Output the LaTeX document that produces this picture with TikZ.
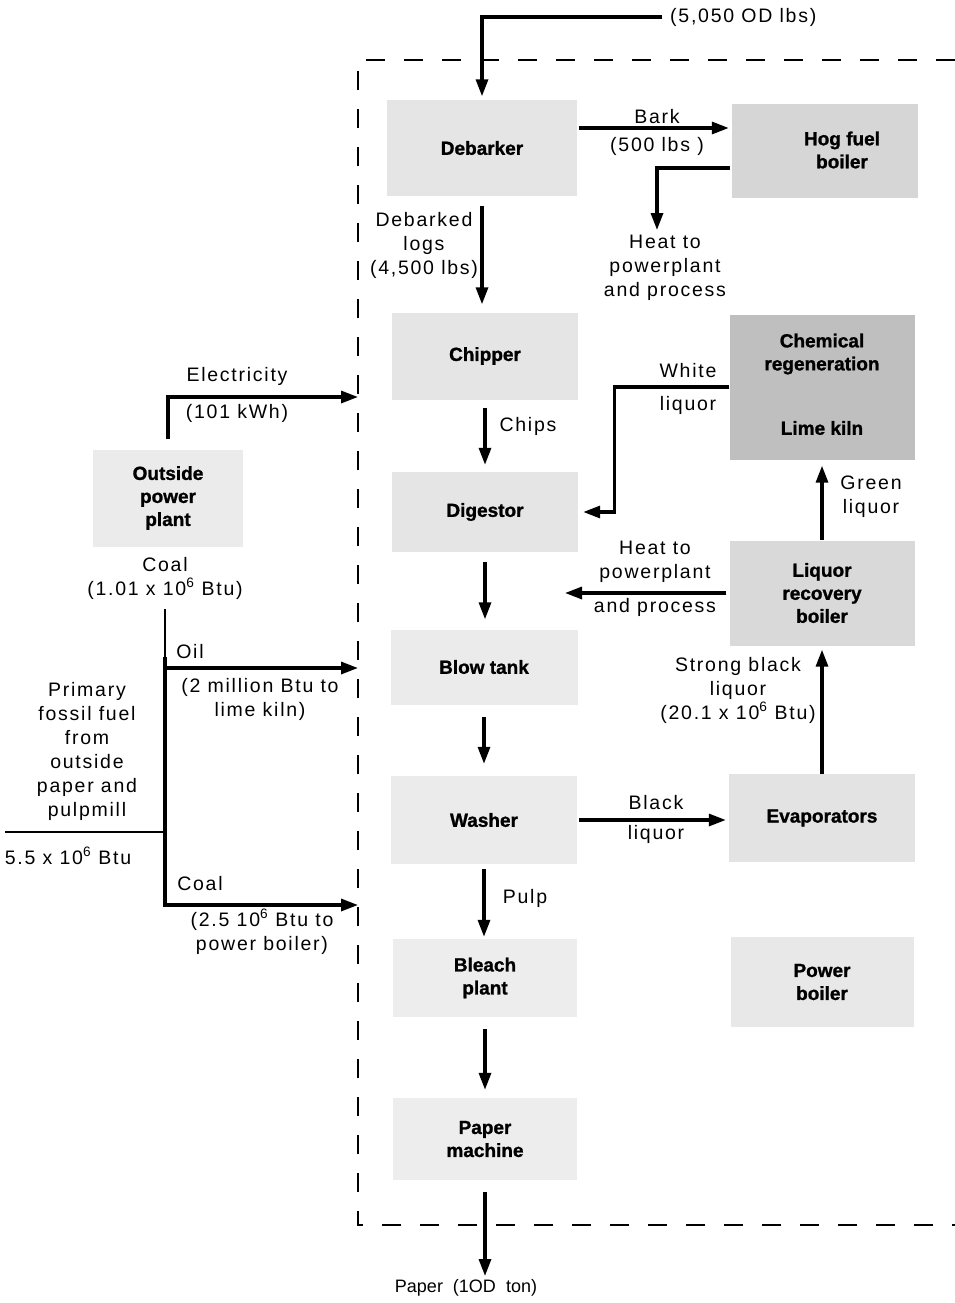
\documentclass[tikz,border=0pt]{standalone}
\usepackage{fontspec}
\setmainfont{Liberation Sans}
\newfontfamily\labfont{Liberation Sans}[LetterSpace=9]
\newfontfamily\heavyfont{Liberation Sans Bold}[FakeBold=1.2]
\usetikzlibrary{arrows.meta}
\tikzset{
  box/.style={fill=gray!20, draw=none, inner sep=0pt, align=center,
    font=\heavyfont\fontsize{19}{23}\selectfont},
  boxtext/.style={font=\heavyfont\fontsize{19}{23}\selectfont, align=center, inner sep=0pt},
  lab/.style={font=\labfont\fontsize{19.5}{24}\selectfont, align=center, inner sep=0pt},
  flow/.style={line width=3.2pt, -{Triangle[length=17pt,width=12pt]}},
  plain/.style={line width=3.2pt},
  thinl/.style={line width=1.3pt},
  frame/.style={line width=2.2pt, dash pattern=on 19pt off 19pt},
}
\begin{document}
\begin{tikzpicture}[x=1pt,y=-1pt]
\useasboundingbox (0,0) rectangle (955,1303);

% process boxes
\node[box, minimum width=190pt, minimum height=95pt] (deb) at (482,148) {Debarker};
\node[box, fill=gray!32, minimum width=186pt, minimum height=93pt] (hog) at (825,151) {};
\node[boxtext] (hogt) at (842,150) {Hog fuel\\boiler};
\node[box, minimum width=186pt, minimum height=87pt] (chip) at (485,356) {Chipper};
\node[box, fill=gray!50, minimum width=185pt, minimum height=145pt] (chem) at (822,387) {};
\node[boxtext] (chemt) at (822,354) {Chemical\\regeneration};
\node[boxtext] (limet) at (822,428) {Lime kiln};
\node[box, minimum width=186pt, minimum height=80pt] (dig) at (485,512) {Digestor};
\node[box, fill=gray!30, minimum width=185pt, minimum height=105pt] (liq) at (822,593) {Liquor\\recovery\\boiler};
\node[box, fill=gray!16, minimum width=187pt, minimum height=75pt] (blow) at (484,667) {Blow tank};
\node[box, fill=gray!16, minimum width=186pt, minimum height=88pt] (wash) at (484,820) {Washer};
\node[box, fill=gray!22, minimum width=186pt, minimum height=88pt] (evap) at (822,818) {Evaporators};
\node[box, fill=gray!14, minimum width=184pt, minimum height=78pt] (bleach) at (485,978) {Bleach\\plant};
\node[box, fill=gray!18, minimum width=183pt, minimum height=90pt] (power) at (822,982) {Power\\boiler};
\node[box, fill=gray!14, minimum width=184pt, minimum height=82pt] (paper) at (485,1139) {Paper\\machine};
\node[box, fill=gray!16, minimum width=150pt, minimum height=97pt] (opp) at (168,498) {Outside\\power\\plant};

% system boundary
\coordinate (fTR) at (955,60);
\coordinate (fTL) at (358,60);
\coordinate (fBL) at (358,1225);
\coordinate (fBR) at (955,1225);
\draw[frame] (fTR) -- (fTL) -- (fBL) -- (fBR);

% wood input
\coordinate (inS) at (662,17);
\draw[flow, shorten >=4pt] (inS) -| (deb.north);
\node[lab, anchor=west] (inL) at (670,17) {(5,050 OD lbs)};

% bark
\draw[flow, shorten <=2pt, shorten >=3pt] ([yshift=20pt]deb.east) -- ([yshift=20pt]deb.east -| hog.west);
\node[lab] (barkL) at (657,117) {Bark};
\node[lab] (barkL2) at (657,146) {(500 lbs )};

% heat from hog fuel boiler
\coordinate (hogHeat) at (657,230);
\draw[flow, shorten <=2pt] ([yshift=-17pt]hog.west) -| (hogHeat);
\node[lab] (heat1) at (665,268) {Heat to\\powerplant\\and process};

% main line
\draw[flow, shorten <=10pt, shorten >=8pt] (deb.south) -- (deb.south |- chip.north);
\node[lab] (logsL) at (424,245) {Debarked\\logs\\(4,500 lbs)};
\draw[flow, shorten <=8pt, shorten >=7pt] (chip.south) -- (chip.south |- dig.north);
\node[lab] (chipsL) at (528,426) {Chips};
\draw[flow, shorten <=10pt, shorten >=10pt] (dig.south) -- (dig.south |- blow.north);
\draw[flow, shorten <=12pt, shorten >=12pt] (blow.south) -- (blow.south |- wash.north);
\draw[flow, shorten <=5pt, shorten >=2pt] (wash.south) -- (wash.south |- bleach.north);
\node[lab] (pulpL) at (525,898) {Pulp};
\draw[flow, shorten <=12pt, shorten >=8pt] (bleach.south) -- (bleach.south |- paper.north);
\coordinate (pOut) at (485,1276);
\draw[flow, shorten <=12pt] (paper.south) -- (pOut);
\node[font=\fontsize{18}{22}\selectfont, inner sep=0pt] (paperL) at (466,1288) {Paper~~(1OD~~ton)};

% white liquor
\draw[flow, shorten >=5pt] (chem.west) -- ++(-115,0) |- (dig.east);
\node[lab] (whiteL) at (688,371) {White};
\node[lab] (whiteL2) at (688,405) {liquor};

% green liquor
\draw[flow, shorten >=6pt] (liq.north) -- (liq.north |- chem.south);
\node[lab] (greenL) at (871,497) {Green\\liquor};

% heat from liquor recovery boiler
\coordinate (lhE) at (565,592);
\draw[flow, shorten <=3pt] (liq.west) -- (liq.west -| lhE);
\node[lab] (heat2) at (655,562) {Heat to\\powerplant};
\node[lab] (heat2b) at (655,607) {and process};

% black liquor
\draw[flow, shorten <=2pt, shorten >=3pt] (wash.east) -- (wash.east -| evap.west);
\node[lab] (blackL) at (656,803) {Black};
\node[lab] (blackL2) at (656,834) {liquor};

% strong black liquor
\draw[flow, shorten >=4pt] (evap.north) -- (evap.north |- liq.south);
\node[lab] (strongL) at (738,690) {Strong black\\liquor\\(20.1 x 10\textsuperscript{6} Btu)};

% electricity
\coordinate (eIn) at (358,397);
\draw[flow, shorten <=10pt] (opp.north) |- (eIn);
\node[lab] (elecL) at (237,376) {Electricity};
\node[lab] (elecL2) at (237,413) {(101 kWh)};

% fossil fuel distribution
\node[lab] (coalA) at (165,578) {Coal\\(1.01 x 10\textsuperscript{6} Btu)};
\coordinate (jTop) at (165,657);
\coordinate (jOil) at (165,668);
\coordinate (jIn) at (165,832);
\coordinate (jCoal) at (165,905);
\coordinate (oilE) at (358,668);
\coordinate (coalE) at (358,905);
\coordinate (pIn) at (5,832);
\draw[thinl, shorten <=10pt] (coalA.south) -- (jTop);
\draw[plain] (jTop) -- (jOil);
\draw[flow] (jOil) -- (oilE);
\draw[flow] (jOil) -- (jCoal) -- (coalE);
\draw[thinl] (pIn) -- (jIn);
\node[lab] (oilL) at (190,652) {Oil};
\node[lab] (oilL2) at (260,699) {(2 million Btu to\\lime kiln)};
\node[lab] (coalL) at (200,884) {Coal};
\node[lab] (coalL2) at (262,932) {(2.5 10\textsuperscript{6} Btu to\\power boiler)};
\node[lab] (primL) at (87,751) {Primary\\fossil fuel\\from\\outside\\paper and\\pulpmill};
\node[lab] (primL2) at (68,856) {5.5 x 10\textsuperscript{6} Btu};
\end{tikzpicture}
\end{document}
